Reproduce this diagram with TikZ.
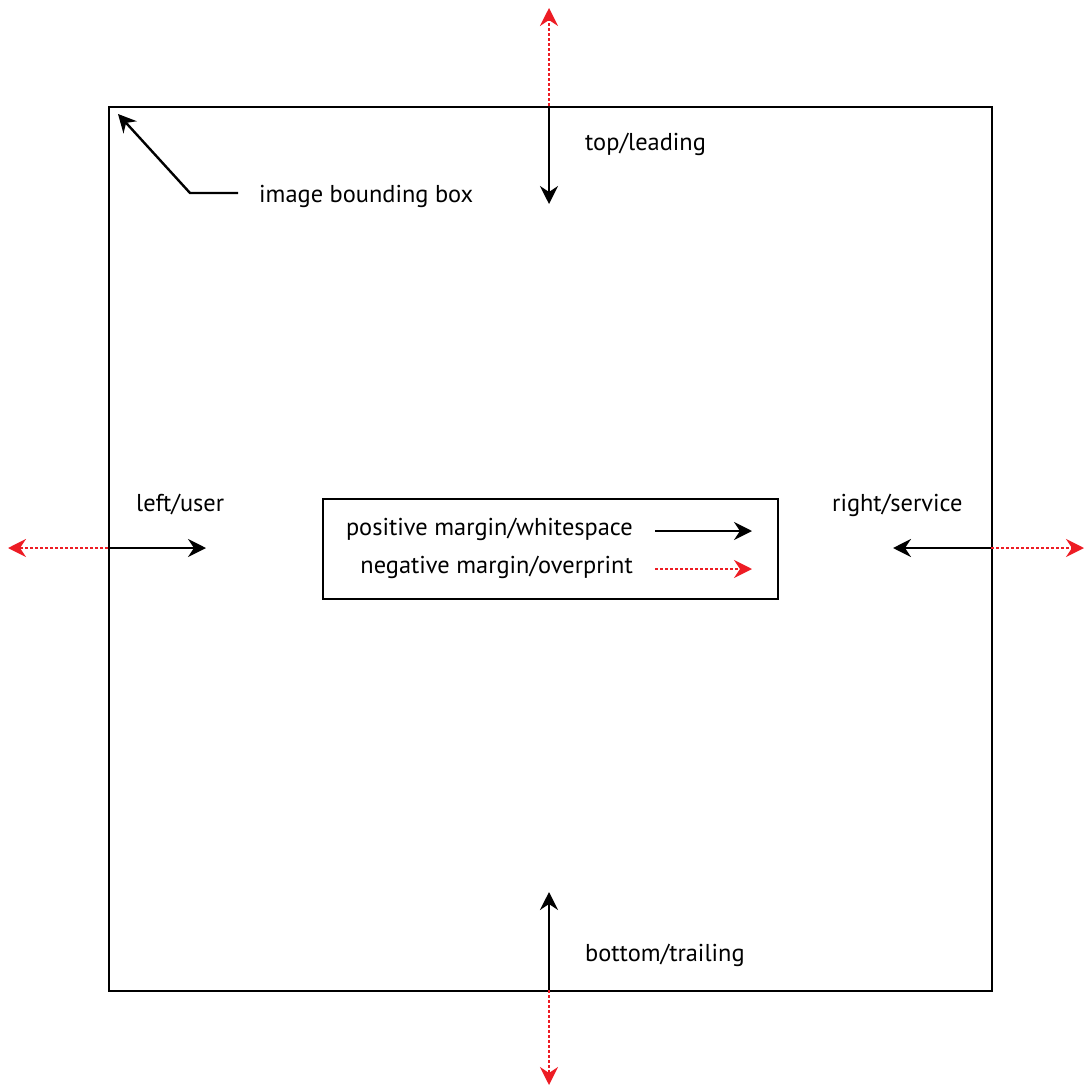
\documentclass[tikz,border=0pt]{standalone}
\usepackage{fontspec}
\setmainfont{PT Sans}
\usetikzlibrary{arrows.meta}
\definecolor{ovred}{RGB}{237,28,36}
\tikzset{
  blk/.style={line width=2.4pt,-{Stealth[length=18pt,width=18pt,inset=6pt]}},
  redd/.style={ovred,line width=2.6pt,dash pattern=on 2.6pt off 2.4pt,-{Stealth[length=18pt,width=18pt,inset=6pt]}},
  lbl/.style={anchor=west,inner sep=0pt,font=\fontsize{24.4}{28}\selectfont}
}
\begin{document}
\begin{tikzpicture}[x=1pt,y=-1pt]
\useasboundingbox (0,0) rectangle (1084,1086);
\node[draw,line width=2.4pt,minimum width=883pt,minimum height=884pt,inner sep=0pt,anchor=north west] (bb) at (108,106) {};
% top
\coordinate (tc) at (549,106);
\coordinate (tin) at (549,204);
\coordinate (tout) at (549,8);
\draw[blk] (tc) -- (tin);
\draw[redd] (tc) -- (tout);
\node[lbl] (ttop) at (585,144) {top/leading};
% bottom
\coordinate (bc) at (549,990);
\coordinate (bin) at (549,892);
\coordinate (bout) at (549,1085);
\draw[blk] (bc) -- (bin);
\draw[redd] (bc) -- (bout);
\node[lbl] (tbot) at (585,955) {bottom/trailing};
% left
\coordinate (lc) at (108,548);
\coordinate (lin) at (206,548);
\coordinate (lout) at (8,548);
\draw[blk] (lc) -- (lin);
\draw[redd] (lc) -- (lout);
\node[lbl] (tleft) at (136,505) {left/user};
% right
\coordinate (rc) at (991,548);
\coordinate (rin) at (893,548);
\coordinate (rout) at (1084,548);
\draw[blk] (rc) -- (rin);
\draw[redd] (rc) -- (rout);
\node[lbl] (tright) at (832,505) {right/service};
% image bounding box label
\node[lbl] (tib) at (259,196) {image bounding box};
\coordinate (ib1) at (238,193);
\coordinate (ib2) at (190,193);
\coordinate (ib3) at (118,114);
\draw[blk] (ib1) -- (ib2) -- (ib3);
% legend
\node[draw,line width=2.4pt,minimum width=455pt,minimum height=100pt,inner sep=0pt,anchor=north west] (leg) at (322,498) {};
\node[lbl,anchor=east] (tpos) at (633,529) {positive margin/whitespace};
\node[lbl,anchor=east] (tneg) at (633,567) {negative margin/overprint};
\coordinate (p1) at (655,531);
\coordinate (p2) at (752,531);
\coordinate (n1) at (655,569);
\coordinate (n2) at (752,569);
\draw[blk] (p1) -- (p2);
\draw[redd] (n1) -- (n2);
\end{tikzpicture}
\end{document}
